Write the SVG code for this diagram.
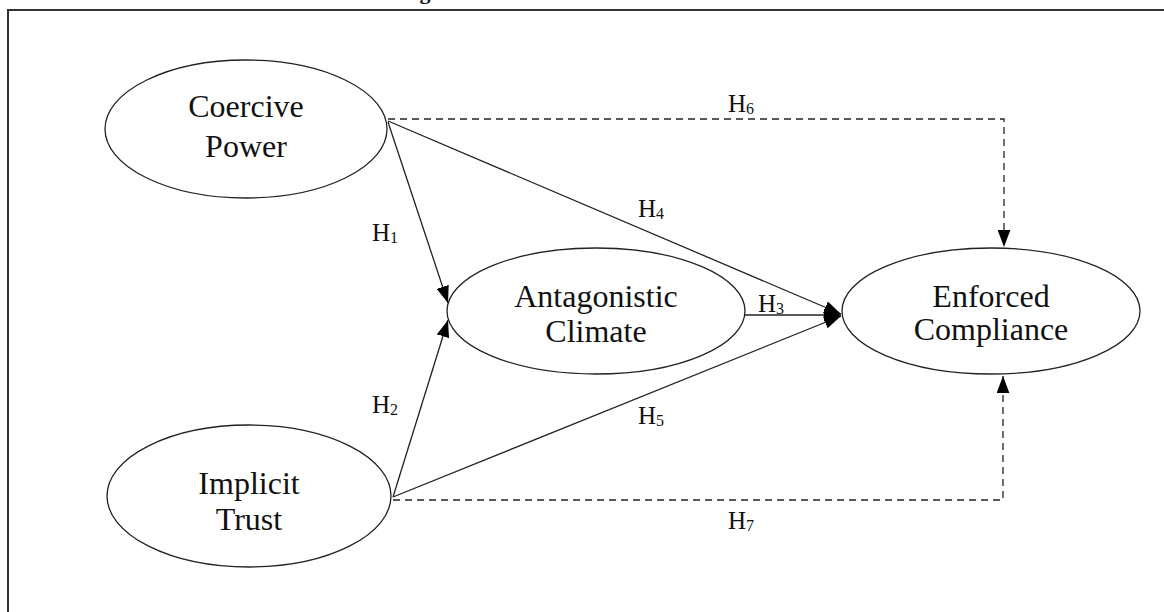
<svg xmlns="http://www.w3.org/2000/svg" width="1164" height="612" viewBox="0 0 1164 612">
<style>
.node{fill:#fff;stroke:#222;stroke-width:1.3}
.t{font-family:"Liberation Serif","Times New Roman",serif;font-size:32px;fill:#111;text-anchor:middle}
.lbl{font-family:"Liberation Serif","Times New Roman",serif;font-size:25px;fill:#111}
.sub{font-size:16px}
.edge{fill:none;stroke:#222;stroke-width:1.3}
.dash{stroke-dasharray:7 5}
</style>
<defs>
<marker id="arr" viewBox="0 0 16 12" refX="16" refY="6" markerWidth="17" markerHeight="13" markerUnits="userSpaceOnUse" orient="auto">
<path d="M0,0 L16,6 L0,12 z" fill="#000"/>
</marker>
</defs>
<rect width="1164" height="612" fill="#fff"/>
<text x="400" y="-1" style="font-family:'Liberation Serif',serif;font-size:22px;font-weight:bold;fill:#111">Figure</text>
<path d="M8,612 V10 H1164" fill="none" stroke="#333" stroke-width="2"/>
<g id="connectors">
<line class="edge" x1="388" y1="122" x2="448" y2="303" marker-end="url(#arr)"/>
<line class="edge" x1="393" y1="497" x2="448" y2="320" marker-end="url(#arr)"/>
<line class="edge" x1="388" y1="121" x2="841" y2="314" marker-end="url(#arr)"/>
<line class="edge" x1="393" y1="497" x2="841" y2="316" marker-end="url(#arr)"/>
<line class="edge" x1="745" y1="315" x2="841" y2="315" marker-end="url(#arr)"/>
<path class="edge dash" d="M388,119 H1004 V247" marker-end="url(#arr)"/>
<path class="edge dash" d="M393,500 H1003 V376" marker-end="url(#arr)"/>
<text class="lbl" x="372" y="241">H<tspan class="sub" dy="2">1</tspan></text>
<text class="lbl" x="372" y="413">H<tspan class="sub" dy="2">2</tspan></text>
<text class="lbl" x="758" y="312">H<tspan class="sub" dy="2">3</tspan></text>
<text class="lbl" x="638" y="217">H<tspan class="sub" dy="2">4</tspan></text>
<text class="lbl" x="638" y="424">H<tspan class="sub" dy="2">5</tspan></text>
<text class="lbl" x="728" y="112">H<tspan class="sub" dy="2">6</tspan></text>
<text class="lbl" x="728" y="529">H<tspan class="sub" dy="2">7</tspan></text>
</g>
<g id="coercive-power">
<ellipse class="node" cx="246" cy="129" rx="141" ry="69"/>
<text class="t" x="246" y="117">Coercive</text>
<text class="t" x="246" y="157">Power</text>
</g>
<g id="implicit-trust">
<ellipse class="node" cx="249" cy="496" rx="142" ry="71"/>
<text class="t" x="249" y="494">Implicit</text>
<text class="t" x="249" y="530">Trust</text>
</g>
<g id="antagonistic-climate">
<ellipse class="node" cx="596" cy="311" rx="149" ry="63"/>
<text class="t" x="596" y="307">Antagonistic</text>
<text class="t" x="596" y="342">Climate</text>
</g>
<g id="enforced-compliance">
<ellipse class="node" cx="991" cy="311" rx="149" ry="63"/>
<text class="t" x="991" y="307">Enforced</text>
<text class="t" x="991" y="340">Compliance</text>
</g>
</svg>
